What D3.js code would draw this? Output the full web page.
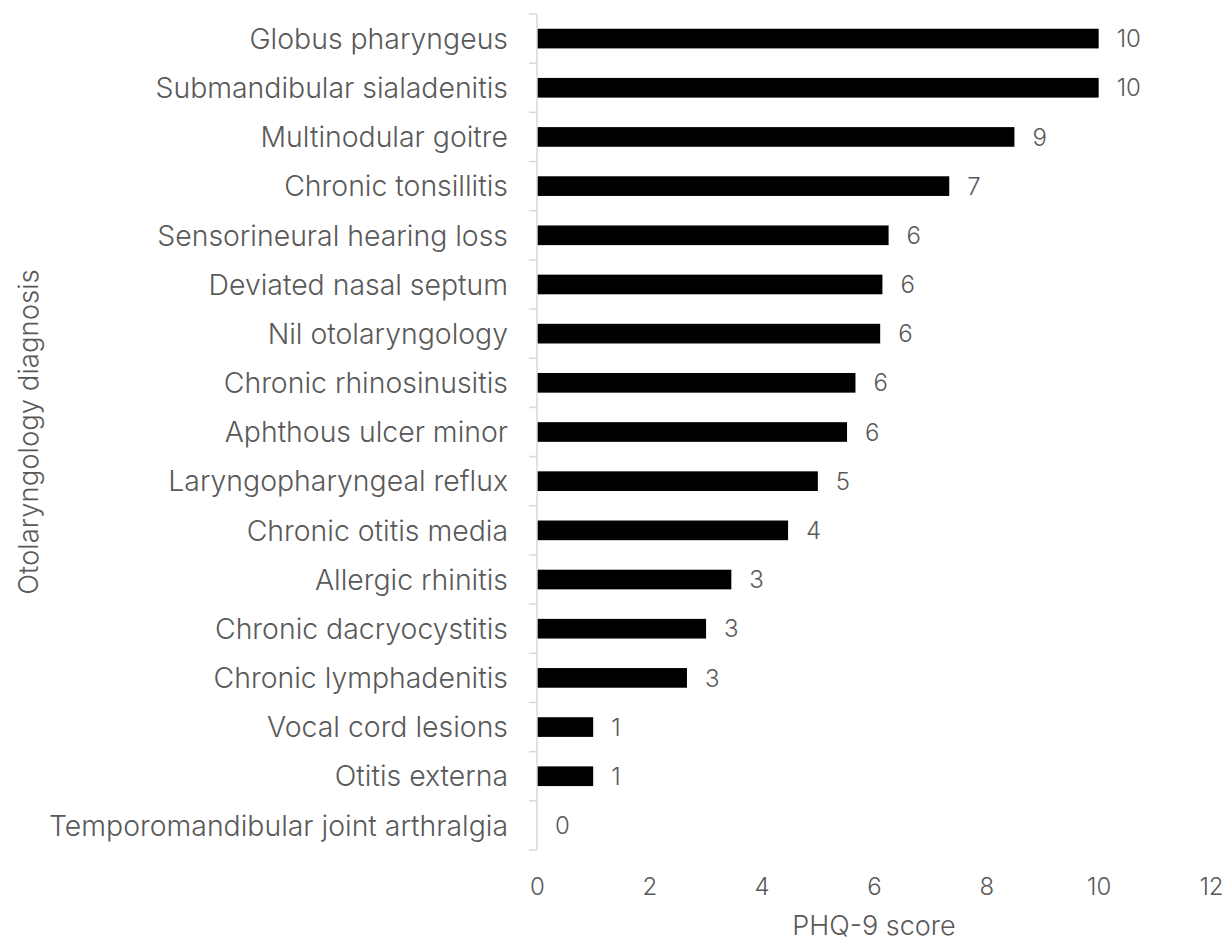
<!DOCTYPE html>
<html>
<head>
<meta charset="utf-8">
<script src="https://cdn.jsdelivr.net/npm/d3@7"></script>
<style>
  html, body { margin: 0; padding: 0; background: #fff; }
  svg { display: block; font-family: Inter, "Open Sans", sans-serif; font-weight: 300; }
</style>
</head>
<body>
<svg id="chart" width="1231" height="941"></svg>
<script>
// Otolaryngology diagnoses, top to bottom
const diagnoses = [
  "Globus pharyngeus",
  "Submandibular sialadenitis",
  "Multinodular goitre",
  "Chronic tonsillitis",
  "Sensorineural hearing loss",
  "Deviated nasal septum",
  "Nil otolaryngology",
  "Chronic rhinosinusitis",
  "Aphthous ulcer minor",
  "Laryngopharyngeal reflux",
  "Chronic otitis media",
  "Allergic rhinitis",
  "Chronic dacryocystitis",
  "Chronic lymphadenitis",
  "Vocal cord lesions",
  "Otitis externa",
  "Temporomandibular joint arthralgia"
];

// Mean PHQ-9 score per diagnosis
const phq9Scores = [10, 10, 8.5, 7.34, 6.26, 6.15, 6.11, 5.67, 5.52, 5.0, 4.47, 3.46, 3.01, 2.67, 1.0, 1.0, 0];

const xTicks = [0, 2, 4, 6, 8, 10, 12];

const svg = d3.select("#chart");
const textColor = "#595959";

const x = d3.scaleLinear().domain([0, 12]).range([537, 1211]);
const y = d3.scaleBand().domain(diagnoses).range([14, 850]).paddingInner(0.6).paddingOuter(0.3);

const rows = diagnoses.map((d, i) => ({ name: d, value: phq9Scores[i] }));

// Bars
svg.append("g")
  .selectAll("rect")
  .data(rows)
  .join("rect")
  .attr("x", x(0))
  .attr("y", d => y(d.name))
  .attr("width", d => x(d.value) - x(0))
  .attr("height", y.bandwidth())
  .attr("fill", "#000");

// Value labels (rounded score)
const fmt = d3.format(".0f");
svg.append("g")
  .selectAll("text")
  .data(rows)
  .join("text")
  .attr("x", d => x(d.value) + 18)
  .attr("y", d => y(d.name) + y.bandwidth() / 2)
  .attr("dy", "0.36em")
  .attr("fill", textColor)
  .attr("font-size", 24)
  .text(d => fmt(d.value));

// Category axis: light line with ticks between categories
const yAxisG = svg.append("g");
yAxisG.append("line")
  .attr("x1", x(0)).attr("x2", x(0))
  .attr("y1", y.range()[0]).attr("y2", y.range()[1])
  .attr("stroke", "#d9d9d9").attr("stroke-width", 1.5);
const boundaries = d3.range(diagnoses.length + 1).map(i => y.range()[0] + i * (y.range()[1] - y.range()[0]) / diagnoses.length);
yAxisG.selectAll("line.tick")
  .data(boundaries)
  .join("line")
  .attr("class", "tick")
  .attr("x1", x(0) - 8).attr("x2", x(0))
  .attr("y1", d => d).attr("y2", d => d)
  .attr("stroke", "#d9d9d9").attr("stroke-width", 1.5);

yAxisG.selectAll("text")
  .data(diagnoses)
  .join("text")
  .attr("x", x(0) - 29)
  .attr("y", d => y(d) + y.bandwidth() / 2)
  .attr("dy", "0.36em")
  .attr("text-anchor", "end")
  .attr("fill", textColor)
  .attr("font-size", 28.4)
  .text(d => d);

// Value axis: labels only
const xAxis = d3.axisBottom(x).tickValues(xTicks).tickSize(0).tickPadding(0).tickFormat(d3.format("d"));
const xAxisG = svg.append("g").attr("transform", "translate(0,878)").call(xAxis);
xAxisG.select(".domain").remove();
xAxisG.selectAll("text")
  .attr("fill", textColor)
  .attr("font-size", 24)
  .attr("font-weight", 300)
  .attr("font-family", "Inter, 'Open Sans', sans-serif");

// Axis titles
svg.append("text")
  .attr("x", (x(0) + x(12)) / 2)
  .attr("y", 935)
  .attr("text-anchor", "middle")
  .attr("fill", textColor)
  .attr("font-size", 27)
  .text("PHQ-9 score");

svg.append("text")
  .attr("transform", `translate(38,432) rotate(-90)`)
  .attr("text-anchor", "middle")
  .attr("fill", textColor)
  .attr("font-size", 27.5)
  .text("Otolaryngology diagnosis");
</script>
</body>
</html>
